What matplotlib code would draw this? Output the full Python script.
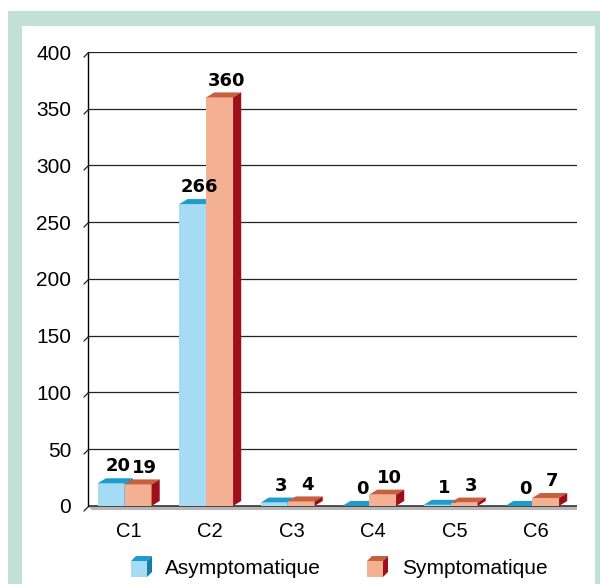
import matplotlib
matplotlib.use("Agg")
import matplotlib.pyplot as plt
from matplotlib.patches import Polygon, Rectangle
from matplotlib.path import Path
import numpy as np

plt.rcParams['font.family'] = ['Liberation Sans', 'DejaVu Sans']

categories = ["C1", "C2", "C3", "C4", "C5", "C6"]
asympto = [20, 266, 3, 0, 1, 0]
sympto = [19, 360, 4, 10, 3, 7]
series_names = ["Asymptomatique", "Symptomatique"]
yticks = [0, 50, 100, 150, 200, 250, 300, 350, 400]

W, H = 600, 584
fig = plt.figure(figsize=(W / 100, H / 100), dpi=100)

# background frame
bg = fig.add_axes([0, 0, 1, 1], zorder=-5)
bg.set_xlim(0, W)
bg.set_ylim(H, 0)
bg.axis("off")
green = "#c2e1d6"
bg.add_patch(Rectangle((8, 11), W - 8, H - 11, facecolor=green, edgecolor="none"))
bg.add_patch(Rectangle((22, 26), 595 - 22, H - 26, facecolor="white", edgecolor="none"))

colors = {
    "a_front": "#a6dcf3", "a_top": "#1e9ccb", "a_side": "#167fa8",
    "s_front": "#f4b093", "s_top": "#c6603f", "s_side": "#9c0f1b",
}

# main axes
x0, x1 = 88, 577
ytop_px, ybot_px = 52, 510.5
ax = fig.add_axes([x0 / W, 1 - ybot_px / H, (x1 - x0) / W, (ybot_px - ytop_px) / H])
ax.set_facecolor("none")
ax.set_xlim(-0.5, 5.5)
ax.set_ylim(-4, 400)
for s in ["top", "right", "bottom"]:
    ax.spines[s].set_visible(False)
ax.spines["left"].set_bounds(0, 400)
ax.spines["left"].set_linewidth(1.0)
ax.set_yticks(yticks)
ax.set_yticklabels([str(t) for t in yticks], fontsize=15)
ax.tick_params(axis="y", length=0, pad=12)
ax.set_xticks(range(len(categories)))
ax.set_xticklabels(categories, fontsize=14.5)
ax.tick_params(axis="x", length=0, pad=8)
for t in yticks[1:]:
    ax.axhline(t, color="#222222", lw=0.9, zorder=1)
# diagonal 3D tick marks
diag = Path([(0, 0), (-1, -1)])
ax.plot(np.full(len(yticks), -0.5), yticks, linestyle="none", marker=diag,
        markersize=7, markeredgecolor="#222222", markeredgewidth=0.9, clip_on=False, zorder=5)

# floor
ax.add_patch(Polygon([(-0.5, 0), (5.5, 0), (5.5, -3.5), (-0.45, -3.5)],
                     closed=True, facecolor="#b5b5b5", edgecolor="none", zorder=2))
ax.plot([-0.5, 5.5], [0, 0], color="#333333", lw=1.2, zorder=2)

dx, dy = 0.1, 4.4
wbar = 0.33
xs = np.arange(len(categories))


def draw_bar(left, v, front, top, side, z):
    right = left + wbar
    ax.bar(left + wbar / 2, v, width=wbar, color=front, zorder=z, linewidth=0)
    ax.add_patch(Polygon([(left, v), (left + dx, v + dy), (right + dx, v + dy), (right, v)],
                         closed=True, facecolor=top, edgecolor="none", zorder=z))
    ax.add_patch(Polygon([(right, 0), (right + dx, dy), (right + dx, v + dy), (right, v)],
                         closed=True, facecolor=side, edgecolor="none", zorder=z))


lab_kw = dict(ha="center", va="baseline", fontsize=13, fontweight="bold",
              family="DejaVu Sans", zorder=20)
for i, c in enumerate(xs):
    la = c - 0.38
    ls = la + wbar
    draw_bar(la, asympto[i], colors["a_front"], colors["a_top"], colors["a_side"], 3 + i * 2)
    draw_bar(ls, sympto[i], colors["s_front"], colors["s_top"], colors["s_side"], 4 + i * 2)
    ax.text(la + wbar / 2 + dx * 0.8, asympto[i] + dy + 6, str(asympto[i]), **lab_kw)
    ax.text(ls + wbar / 2 + dx * 0.8, sympto[i] + dy + 6, str(sympto[i]), **lab_kw)

# legend (pixel coords)
leg = fig.add_axes([0, 0, 1, 1], zorder=10)
leg.set_xlim(0, W)
leg.set_ylim(H, 0)
leg.axis("off")


def cube(x, y, s, front, top, side):
    d = 5
    leg.add_patch(Rectangle((x, y), s, s, facecolor=front, edgecolor="none"))
    leg.add_patch(Polygon([(x, y), (x + d, y - d), (x + s + d, y - d), (x + s, y)],
                          closed=True, facecolor=top, edgecolor="none"))
    leg.add_patch(Polygon([(x + s, y), (x + s + d, y - d), (x + s + d, y + s - d), (x + s, y + s)],
                          closed=True, facecolor=side, edgecolor="none"))


cube(131, 561, 16, colors["a_front"], colors["a_top"], colors["a_side"])
leg.text(165, 568, series_names[0], fontsize=15, va="center", ha="left")
cube(367, 561, 16, colors["s_front"], colors["s_top"], colors["s_side"])
leg.text(402, 568, series_names[1], fontsize=15, va="center", ha="left")

fig.savefig("out.png", dpi=100)
